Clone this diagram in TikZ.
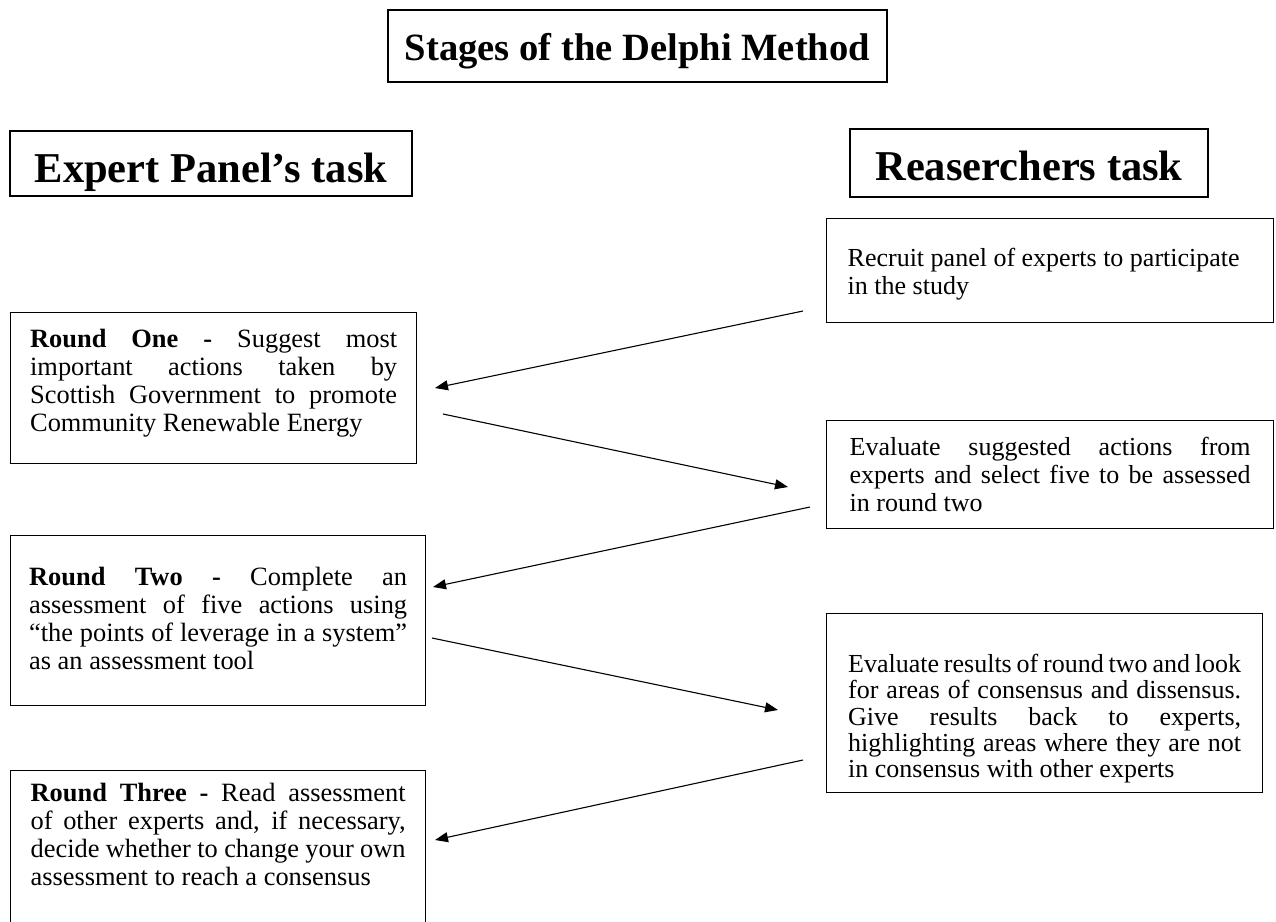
\documentclass[tikz,border=0pt]{standalone}
\usepackage{fontspec}
\setmainfont{Liberation Serif}
\usetikzlibrary{arrows.meta}
\hyphenpenalty=10000
\tolerance=9999
\tikzstyle{titlebox}=[draw,line width=1.3pt,inner sep=0pt,font=\fontsize{38.6}{42}\selectfont\bfseries]
\tikzstyle{headbox}=[draw,line width=1.3pt,inner sep=0pt,font=\fontsize{42.5}{46}\selectfont\bfseries]
\tikzstyle{taskbox}=[draw,line width=1.3pt,anchor=north west,inner ysep=0pt,align=justify,font=\fontsize{26.4}{28}\selectfont]
\tikzstyle{reportbox}=[taskbox,font=\fontsize{26}{28}\selectfont]
\tikzstyle{flow}=[draw,line width=1.1pt,-{Triangle[length=13pt,width=10pt]}]

\begin{document}
\begin{tikzpicture}[x=1pt,y=-1pt]

    \useasboundingbox (0,0) rectangle (1276,921);

    % Title and the two column heads
    \node[titlebox, minimum width=499pt, text height=50pt, text depth=22pt] (title) at (637.5,46) {Stages of the Delphi Method};
    \node[headbox, minimum width=402pt, text height=51pt, text depth=14pt] (panel) at (211,163.5) {Expert Panel’s task};
    \node[headbox, minimum width=358pt, text height=51pt, text depth=17pt] (research) at (1029,163) {Reaserchers task};

    % Expert panel side
    \node[taskbox, text width=367pt, inner xsep=19.5pt, text height=35pt, text depth=116pt] (one) at (10,312)
        {\textbf{Round One -} Suggest most\linebreak important actions taken by\linebreak Scottish Government to promote\linebreak Community Renewable Energy};
    \node[taskbox, text width=378pt, inner xsep=18.5pt, text height=50pt, text depth=120pt] (two) at (10,535)
        {\textbf{Round Two -} Complete an\linebreak assessment of five actions using\linebreak “the points of leverage in a system”\linebreak as an assessment tool};
    \node[taskbox, text width=375pt, inner xsep=20pt, text height=31pt, text depth=125pt] (three) at (10,770)
        {\textbf{Round Three -} Read assessment\linebreak of other experts and, if necessary,\linebreak decide whether to change your own\linebreak assessment to reach a consensus};

    % Researchers side
    \node[reportbox, align=flush left, text width=405pt, inner xsep=21pt, text height=48pt, text depth=56pt] (recruit) at (826,218)
        {Recruit panel of experts to participate\\in the study};
    \node[reportbox, text width=401pt, inner xsep=23pt, text height=35pt, text depth=73pt] (select) at (826,420)
        {Evaluate suggested actions from\linebreak experts and select five to be assessed\linebreak in round two};
    \node[reportbox, font=\fontsize{26}{26.3}\selectfont, text width=393pt, inner xsep=21.5pt, text height=59pt, text depth=120pt] (results) at (826,613)
        {Evaluate results of round two and look\linebreak for areas of consensus and dissensus.\linebreak Give results back to experts,\linebreak highlighting areas where they are not\linebreak in consensus with other experts};

    % Free ends of the arrows
    \coordinate (recruit-out) at (803,311);
    \coordinate (one-in) at (435,388);
    \coordinate (one-out) at (443,414);
    \coordinate (select-in) at (788,487);
    \coordinate (select-out) at (810,507);
    \coordinate (two-in) at (433,587);
    \coordinate (two-out) at (432,638);
    \coordinate (results-in) at (778,710);
    \coordinate (results-out) at (803,760);
    \coordinate (three-in) at (435,840);

    % Arrows going back and forth
    \foreach \source/\dest in {recruit-out/one-in, one-out/select-in, select-out/two-in, two-out/results-in, results-out/three-in}
        \path[flow] (\source) -- (\dest);

\end{tikzpicture}
\end{document}
